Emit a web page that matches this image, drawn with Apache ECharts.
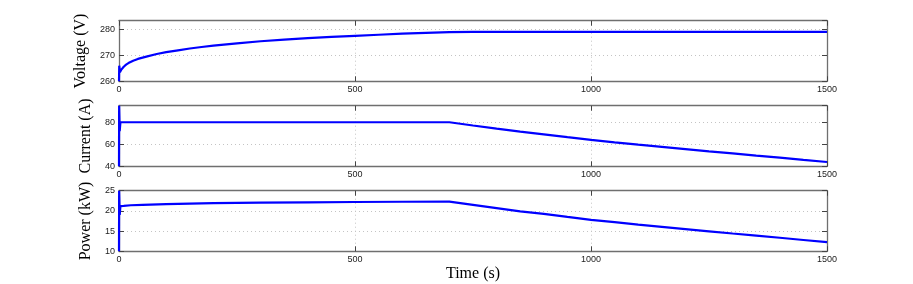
<!DOCTYPE html>
<html><head><meta charset="utf-8">
<script src="https://cdn.jsdelivr.net/npm/echarts@6/dist/echarts.min.js"></script>
<style>html,body{margin:0;padding:0;background:#fff}#c{width:913px;height:284px}</style>
</head><body><div id="c"></div>
<script>
// Time samples (s)
var timeV = [0, 0.5, 2, 5, 10, 15, 20, 30, 40, 50, 60, 80, 100, 125, 150, 175, 200, 250, 300, 350, 400, 450, 500, 550, 600, 650, 700, 750, 800, 900, 1000, 1100, 1200, 1300, 1400, 1500];
var voltage = [260, 266, 263.5, 264.5, 265.6, 266.4, 267, 267.9, 268.6, 269.1, 269.6, 270.5, 271.2, 271.9, 272.6, 273.2, 273.7, 274.6, 275.4, 276.0, 276.6, 277.1, 277.5, 277.9, 278.3, 278.6, 278.9, 279, 279, 279, 279, 279, 279, 279, 279, 279];

var timeI = [0, 0.3, 1.5, 3, 100, 300, 500, 700, 750, 800, 850, 900, 950, 1000, 1050, 1100, 1150, 1200, 1250, 1300, 1350, 1400, 1450, 1500];
var current = [40, 95, 72, 80, 80, 80, 80, 80, 77.0, 74.2, 71.5, 69.0, 66.4, 63.9, 61.7, 59.6, 57.6, 55.6, 53.6, 51.7, 49.7, 47.8, 45.8, 43.9];

var timeP = [0, 0.3, 1.5, 3, 10, 25, 50, 100, 150, 200, 300, 400, 500, 600, 700, 750, 800, 850, 900, 950, 1000, 1050, 1100, 1150, 1200, 1250, 1300, 1350, 1400, 1450, 1500];
var power = [10, 25, 19, 21.2, 21.25, 21.4, 21.5, 21.7, 21.8, 21.9, 22.03, 22.13, 22.2, 22.26, 22.3, 21.5, 20.7, 19.9, 19.25, 18.5, 17.8, 17.2, 16.6, 16.05, 15.5, 14.95, 14.4, 13.9, 13.35, 12.8, 12.25];

var xTicks = [0, 500, 1000, 1500];
var panelNames = ['Voltage (V)', 'Current (A)', 'Power (kW)'];
var yMin = [260, 40, 10], yMax = [283.3, 95, 25], yInt = [10, 20, 5];

function pairs(t, v){ return t.map(function(x,i){ return [x, v[i]]; }); }
var seriesData = [pairs(timeV, voltage), pairs(timeI, current), pairs(timeP, power)];

var tops = [20.7, 105.7, 190.7], H = 60.6;
var grids = [], xAxes = [], yAxes = [], series = [];
var nameGaps = [21, 16, 19];
var frame = '#6f6f6f';
var fmt = function(v){ return String(v); };
var tickStyle = {show: true, inside: true, length: 5, lineStyle: {color: '#444'}};
var frameLine = {show: true, onZero: false, lineStyle: {color: frame, width: 1.3}};
var grid = {show: true, lineStyle: {color: '#c4c4c4', type: [1, 3], width: 1}, showMinLine: false, showMaxLine: false};
for (var k = 0; k < 3; k++) {
  grids.push({left: 119, width: 708, top: tops[k], height: H});
  xAxes.push({type: 'value', gridIndex: k, min: 0, max: 1500, interval: 500, position: 'bottom',
    axisLine: frameLine, axisTick: tickStyle,
    axisLabel: {fontFamily: 'Liberation Sans, Arial', fontSize: 9, color: '#222', margin: 4, formatter: fmt},
    splitLine: grid,
    name: k === 2 ? 'Time (s)' : '', nameLocation: 'middle', nameGap: 14,
    nameTextStyle: {fontFamily: 'Liberation Serif, Times New Roman, serif', fontSize: 16, color: '#000'}
  });
  xAxes.push({type: 'value', gridIndex: k, min: 0, max: 1500, interval: 500, position: 'top',
    axisLine: frameLine, axisLabel: {show: false}, splitLine: {show: false}, axisTick: tickStyle
  });
  yAxes.push({type: 'value', gridIndex: k, min: yMin[k], max: yMax[k], interval: yInt[k], position: 'left',
    axisLine: frameLine, axisTick: tickStyle,
    axisLabel: {fontFamily: 'Liberation Sans, Arial', fontSize: 9, color: '#222', margin: 4, showMaxLabel: k === 2, formatter: fmt},
    splitLine: grid,
    name: panelNames[k], nameLocation: 'middle', nameGap: nameGaps[k], nameRotate: 90,
    nameTextStyle: {fontFamily: 'Liberation Serif, Times New Roman, serif', fontSize: 16, color: '#000'}
  });
  yAxes.push({type: 'value', gridIndex: k, min: yMin[k], max: yMax[k], interval: yInt[k], position: 'right',
    axisLine: frameLine, axisLabel: {show: false}, splitLine: {show: false}, axisTick: tickStyle
  });
  series.push({type: 'line', xAxisIndex: 2*k, yAxisIndex: 2*k, data: seriesData[k], showSymbol: false,
    smooth: false, lineStyle: {color: '#0000ff', width: 2.2}, itemStyle: {color: '#0000ff'}, clip: true, z: 3});
}
var chart = echarts.init(document.getElementById('c'), null, {renderer: 'canvas'});
chart.setOption({animation: false, backgroundColor: '#fff', grid: grids, xAxis: xAxes, yAxis: yAxes, series: series});
</script></body></html>
